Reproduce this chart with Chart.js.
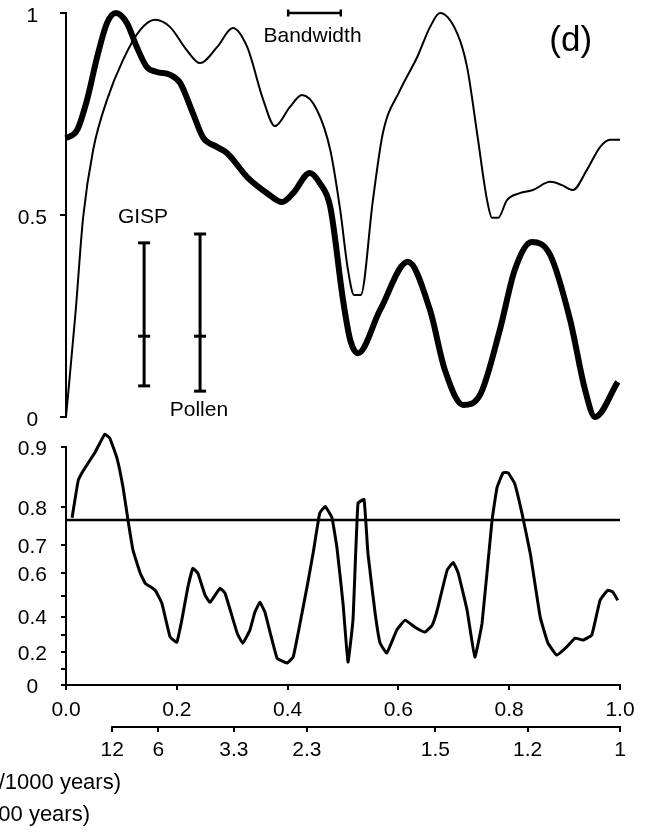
<!DOCTYPE html>
<html>
<head>
<meta charset="utf-8">
<script src="https://cdn.jsdelivr.net/npm/chart.js@4.4.0/dist/chart.umd.min.js"></script>
<style>
  html, body { margin: 0; padding: 0; background: #fff; }
  #wrap { position: relative; width: 646px; height: 833px; overflow: hidden; }
  #topBox { position: absolute; left: 0; top: 0; width: 646px; height: 432px; }
  #botBox { position: absolute; left: 0; top: 432px; width: 646px; height: 401px; }
</style>
</head>
<body>
<div id="wrap">
  <div id="topBox"><canvas id="topChart"></canvas></div>
  <div id="botBox"><canvas id="botChart"></canvas></div>
</div>
<script>
// ---- top panel: normalised spectra, frequency in cycles / 1000 yr ----
const thickFreq = [0.0, 0.02, 0.038, 0.056, 0.074, 0.09, 0.11, 0.128, 0.146, 0.164, 0.188, 0.206, 0.229, 0.247,
  0.273, 0.291, 0.327, 0.363, 0.39, 0.41, 0.44, 0.458, 0.477, 0.5, 0.513, 0.527, 0.567, 0.617, 0.657, 0.684,
  0.717, 0.747, 0.783, 0.81, 0.841, 0.874, 0.91, 0.937, 0.955, 0.996];
const thickVals = [0.69, 0.71, 0.785, 0.89, 0.975, 1.0, 0.975, 0.915, 0.866, 0.854, 0.847, 0.827, 0.752, 0.693,
  0.668, 0.653, 0.594, 0.554, 0.532, 0.554, 0.604, 0.579, 0.52, 0.29, 0.191, 0.158, 0.265, 0.384, 0.265, 0.116,
  0.03, 0.054, 0.215, 0.364, 0.433, 0.401, 0.24, 0.067, 0.0, 0.087];

const thinFreq = [0.0, 0.017, 0.031, 0.049, 0.074, 0.103, 0.134, 0.161, 0.188, 0.218, 0.242, 0.273, 0.301, 0.327,
  0.356, 0.377, 0.404, 0.426, 0.453, 0.477, 0.495, 0.509, 0.52, 0.532, 0.554, 0.572, 0.603, 0.634, 0.657, 0.675,
  0.706, 0.724, 0.742, 0.76, 0.769, 0.78, 0.796, 0.819, 0.843, 0.874, 0.895, 0.915, 0.94, 0.964, 0.982, 1.0];
const thinVals = [0.0, 0.255, 0.495, 0.661, 0.785, 0.884, 0.958, 0.983, 0.965, 0.908, 0.876, 0.916, 0.963, 0.916,
  0.785, 0.72, 0.767, 0.797, 0.76, 0.661, 0.512, 0.364, 0.302, 0.302, 0.537, 0.703, 0.809, 0.891, 0.965, 1.0,
  0.95, 0.866, 0.703, 0.537, 0.493, 0.493, 0.537, 0.554, 0.562, 0.582, 0.574, 0.562, 0.611, 0.668, 0.686, 0.686];

// error bars (low, mid, high) and bandwidth
const gispBar = [0.077, 0.2, 0.431];
const gispFreq = 0.141;
const pollenBar = [0.064, 0.2, 0.453];
const pollenFreq = 0.242;
const bandwidthFreq = [0.401, 0.496];
const bandwidthLevel = 1.0;

// ---- bottom panel: coherence ----
const cohFreq = [0.011, 0.022, 0.031, 0.052, 0.07, 0.079, 0.092, 0.103, 0.112, 0.121, 0.134, 0.143, 0.161, 0.173,
  0.188, 0.2, 0.209, 0.22, 0.229, 0.238, 0.251, 0.26, 0.278, 0.287, 0.309, 0.319, 0.332, 0.341, 0.35, 0.359,
  0.381, 0.399, 0.41, 0.419, 0.435, 0.446, 0.458, 0.468, 0.48, 0.489, 0.5, 0.509, 0.518, 0.527, 0.538, 0.545,
  0.558, 0.567, 0.579, 0.597, 0.612, 0.63, 0.648, 0.661, 0.67, 0.688, 0.699, 0.708, 0.724, 0.738, 0.751, 0.769,
  0.778, 0.789, 0.798, 0.81, 0.823, 0.838, 0.856, 0.87, 0.886, 0.904, 0.919, 0.933, 0.949, 0.964, 0.978, 0.987, 0.996];
const cohVals = [0.776, 0.852, 0.868, 0.893, 0.914, 0.91, 0.886, 0.84, 0.769, 0.682, 0.599, 0.558, 0.527, 0.467,
  0.288, 0.259, 0.381, 0.541, 0.618, 0.599, 0.505, 0.471, 0.536, 0.514, 0.31, 0.253, 0.327, 0.423, 0.471, 0.423,
  0.165, 0.135, 0.171, 0.31, 0.541, 0.672, 0.787, 0.802, 0.776, 0.692, 0.467, 0.141, 0.381, 0.809, 0.817, 0.672,
  0.417, 0.253, 0.195, 0.327, 0.381, 0.343, 0.316, 0.354, 0.432, 0.611, 0.64, 0.599, 0.432, 0.171, 0.365, 0.769,
  0.84, 0.865, 0.865, 0.847, 0.787, 0.672, 0.397, 0.253, 0.183, 0.231, 0.282, 0.271, 0.299, 0.481, 0.527, 0.519, 0.481];
const cohLevel = 0.77;

// tick labels
const specTicks = ['0', '0.5', '1'];
const cohTicks = [0, 0.1, 0.2, 0.3, 0.4, 0.5, 0.6, 0.7, 0.8, 0.9];
const cohTickLabels = ['0', '', '0.2', '', '0.4', '', '0.6', '0.7', '0.8', '0.9'];
const periodTicks = [12, 6, 3.3, 2.3, 1.5, 1.2, 1];

const FONT = "'Liberation Sans', Arial, sans-serif";
const tickFont = { family: FONT, size: 21 };

function pts(xs, ys, fn) {
  return xs.map((x, i) => ({ x: x, y: fn ? fn(ys[i]) : ys[i] }));
}
function errBar(f, vals) {
  return vals.map(v => ({ x: f, y: v }));
}
// keep the chart area where the layout padding puts it
function noPad(s) {
  s.paddingTop = 0; s.paddingBottom = 0; s.paddingLeft = 0; s.paddingRight = 0;
}

const textPlugin = {
  id: 'panelText',
  afterDatasetsDraw(chart, args, opts) {
    const { ctx, scales: { x, y } } = chart;
    ctx.save();
    ctx.fillStyle = '#000';
    ctx.textBaseline = 'middle';
    (opts.items || []).forEach(it => {
      ctx.font = it.size + 'px ' + FONT;
      ctx.textAlign = it.align || 'center';
      const px = it.px !== undefined ? it.px : x.getPixelForValue(it.x);
      const py = it.py !== undefined ? it.py : y.getPixelForValue(it.y);
      ctx.fillText(it.text, px, py);
    });
    ctx.restore();
  }
};

// top panel
new Chart(document.getElementById('topChart'), {
  type: 'line',
  data: {
    datasets: [
      {
        data: pts(thickFreq, thickVals),
        borderColor: '#000',
        borderWidth: 6,
        pointRadius: 0,
        cubicInterpolationMode: 'monotone',
        clip: false
      },
      {
        data: pts(thinFreq, thinVals),
        borderColor: '#000',
        borderWidth: 2,
        pointRadius: 0,
        cubicInterpolationMode: 'monotone',
        clip: false
      },
      {
        data: errBar(gispFreq, gispBar),
        borderColor: '#000',
        borderWidth: 3,
        pointStyle: 'line',
        pointRadius: 6,
        pointBorderWidth: 3
      },
      {
        data: errBar(pollenFreq, pollenBar),
        borderColor: '#000',
        borderWidth: 3,
        pointStyle: 'line',
        pointRadius: 6,
        pointBorderWidth: 3
      },
      {
        data: bandwidthFreq.map(f => ({ x: f, y: bandwidthLevel })),
        borderColor: '#000',
        borderWidth: 2.5,
        pointStyle: 'line',
        rotation: 90,
        pointRadius: 3.5,
        pointBorderWidth: 2.5,
        clip: false
      }
    ]
  },
  options: {
    animation: false,
    responsive: true,
    maintainAspectRatio: false,
    layout: { padding: { left: 0, right: 26, top: 13, bottom: 15 } },
    plugins: {
      legend: { display: false },
      tooltip: { enabled: false },
      panelText: {
        items: [
          { text: 'Bandwidth', x: 0.445, y: 0.943, size: 21 },
          { text: '(d)', x: 0.911, y: 0.93, size: 35 },
          { text: 'GISP', x: 0.139, y: 0.494, size: 21 },
          { text: 'Pollen', x: 0.24, y: 0.017, size: 21 }
        ]
      }
    },
    scales: {
      x: { type: 'linear', min: 0, max: 1, display: false },
      y: {
        min: 0,
        max: 1,
        afterFit(s) { s.width = 66; noPad(s); },
        ticks: { stepSize: 0.5, autoSkip: false, color: '#000', font: tickFont, padding: 13, crossAlign: 'center',
          labelOffset: 3, callback: (v, i) => specTicks[i] },
        grid: { drawOnChartArea: false, tickLength: 6, color: '#000', lineWidth: 2 },
        border: { color: '#000', width: 2 }
      }
    }
  },
  plugins: [textPlugin]
});

// bottom panel
const periodLine = {
  id: 'periodLine',
  afterDraw(chart) {
    const s = chart.scales.x2;
    const ctx = chart.ctx;
    ctx.save();
    ctx.strokeStyle = '#000';
    ctx.lineWidth = 2;
    ctx.beginPath();
    ctx.moveTo(s.getPixelForValue(1 / periodTicks[0]) - 1, s.top);
    ctx.lineTo(s.getPixelForValue(1 / periodTicks[periodTicks.length - 1]) + 1, s.top);
    ctx.stroke();
    ctx.restore();
  }
};

new Chart(document.getElementById('botChart'), {
  type: 'line',
  data: {
    datasets: [
      {
        data: pts(cohFreq, cohVals, Math.atanh),
        borderColor: '#000',
        borderWidth: 3,
        pointRadius: 0,
        tension: 0.1,
        clip: false
      },
      {
        data: [{ x: 0, y: Math.atanh(cohLevel) }, { x: 1, y: Math.atanh(cohLevel) }],
        borderColor: '#000',
        borderWidth: 2.5,
        pointRadius: 0
      }
    ]
  },
  options: {
    animation: false,
    responsive: true,
    maintainAspectRatio: false,
    layout: { padding: { left: 0, right: 26, top: 15, bottom: 66 } },
    plugins: {
      legend: { display: false },
      tooltip: { enabled: false },
      panelText: {
        items: [
          { text: 'Frequency (cycles/1000 years)', px: 121, py: 351, size: 22, align: 'right' },
          { text: 'Period (1000 years)', px: 90, py: 383, size: 22, align: 'right' }
        ]
      }
    },
    scales: {
      x: {
        type: 'linear',
        min: 0,
        max: 1,
        position: 'bottom',
        afterFit(s) { s.height = 42; noPad(s); },
        ticks: { stepSize: 0.2, autoSkip: false, maxRotation: 0, color: '#000', font: tickFont, padding: 8,
          callback: v => v.toFixed(1) },
        grid: { drawOnChartArea: false, tickLength: 5, color: '#000', lineWidth: 2 },
        border: { color: '#000', width: 2 }
      },
      x2: {
        type: 'linear',
        min: 0,
        max: 1,
        position: 'bottom',
        afterBuildTicks(s) { s.ticks = periodTicks.map(p => ({ value: 1 / p })); },
        afterFit(s) { s.height = 40; noPad(s); },
        ticks: { autoSkip: false, maxRotation: 0, color: '#000', font: tickFont, padding: 6,
          callback: (v, i) => String(periodTicks[i]) },
        grid: { drawOnChartArea: false, tickLength: 5, color: '#000', lineWidth: 2 },
        border: { display: false }
      },
      y: {
        min: 0,
        max: Math.atanh(0.9),
        afterFit(s) { s.width = 66; noPad(s); },
        afterBuildTicks(s) { s.ticks = cohTicks.map(c => ({ value: Math.atanh(c) })); },
        ticks: { autoSkip: false, color: '#000', font: tickFont, padding: 14, crossAlign: 'center', labelOffset: 2,
          callback: (v, i) => cohTickLabels[i] },
        grid: { drawOnChartArea: false, tickLength: 5, color: '#000', lineWidth: 2 },
        border: { color: '#000', width: 2 }
      }
    }
  },
  plugins: [textPlugin, periodLine]
});
</script>
</body>
</html>
